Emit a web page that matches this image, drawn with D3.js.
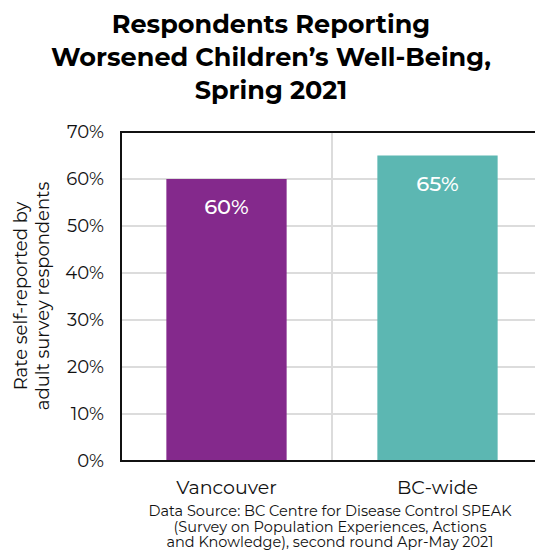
<!DOCTYPE html>
<html>
<head>
<meta charset="utf-8">
<script src="https://cdn.jsdelivr.net/npm/d3@7"></script>
<style>
  html, body { margin: 0; padding: 0; background: #fff; }
  svg { display: block; font-family: "Montserrat", "Open Sans", "Noto Sans", sans-serif; }
</style>
</head>
<body>
<svg id="chart" width="535" height="551"></svg>
<script>
// Survey results: share of respondents reporting worsened children's well-being
const categories = ["Vancouver", "BC-wide"];
const values = [60, 65];
const barColors = ["#84298c", "#5cb7b2"];
const yTicks = [0, 10, 20, 30, 40, 50, 60, 70];
const titleLines = ["Respondents Reporting", "Worsened Children\u2019s Well-Being,", "Spring 2021"];
const yTitleLines = ["Rate self-reported by", "adult survey respondents"];
const sourceLines = [
  "Data Source: BC Centre for Disease Control SPEAK",
  "(Survey on Population Experiences, Actions",
  "and Knowledge), second round Apr-May 2021"
];

const svg = d3.select("#chart");
const plot = { left: 121, right: 543, top: 132, bottom: 461 };

const x = d3.scaleBand().domain(categories).range([plot.left, plot.right]).paddingInner(0.43).paddingOuter(0.215);
const y = d3.scaleLinear().domain([0, 70]).range([plot.bottom, plot.top]);

// Title
svg.append("g").selectAll("text").data(titleLines).join("text")
  .attr("x", 271).attr("y", (d, i) => 33 + i * 33)
  .attr("text-anchor", "middle")
  .attr("font-size", 25.5).attr("font-weight", 700).attr("fill", "#000")
  .text(d => d);

// Horizontal gridlines
svg.append("g").selectAll("line").data(yTicks.filter(t => t > 0 && t < 70)).join("line")
  .attr("x1", plot.left).attr("x2", plot.right)
  .attr("y1", d => y(d)).attr("y2", d => y(d))
  .attr("stroke", "#dcdcdc").attr("stroke-width", 2);

// Vertical gridline between categories
const mid = (x(categories[0]) + x.bandwidth() + x(categories[1])) / 2;
svg.append("line")
  .attr("x1", mid).attr("x2", mid).attr("y1", plot.top).attr("y2", plot.bottom)
  .attr("stroke", "#dcdcdc").attr("stroke-width", 2);

// Bars
svg.append("g").selectAll("rect").data(values).join("rect")
  .attr("x", (d, i) => x(categories[i]))
  .attr("width", x.bandwidth())
  .attr("y", d => y(d))
  .attr("height", d => y(0) - y(d))
  .attr("fill", (d, i) => barColors[i]);

// Value labels inside bars
svg.append("g").selectAll("text").data(values).join("text")
  .attr("x", (d, i) => x(categories[i]) + x.bandwidth() / 2)
  .attr("y", d => y(d) + 35)
  .attr("text-anchor", "middle")
  .attr("font-size", 21).attr("font-weight", 500).attr("fill", "#fff")
  .text(d => d + "%");

// Frame: top, left, bottom
svg.append("path")
  .attr("d", `M${plot.right},${plot.top}H${plot.left}V${plot.bottom}H${plot.right}`)
  .attr("fill", "none").attr("stroke", "#111").attr("stroke-width", 2);

// Y axis
const yAxis = d3.axisLeft(y).tickValues(yTicks).tickFormat(d => d + "%").tickSize(0).tickPadding(17);
svg.append("g").attr("transform", `translate(${plot.left},0)`).call(yAxis)
  .call(g => g.select(".domain").remove())
  .call(g => g.selectAll("text").attr("font-size", 18).attr("fill", "#111")
    .attr("font-family", "Montserrat, 'Open Sans', sans-serif"));

// X axis labels
const xAxis = d3.axisBottom(x).tickSize(0).tickPadding(20);
svg.append("g").attr("transform", `translate(0,${plot.bottom})`).call(xAxis)
  .call(g => g.select(".domain").remove())
  .call(g => g.selectAll("text").attr("font-size", 19).attr("fill", "#111")
    .attr("font-family", "Montserrat, 'Open Sans', sans-serif"));

// Y axis title
svg.append("g").attr("transform", "translate(0,296) rotate(-90)")
  .selectAll("text").data(yTitleLines).join("text")
  .attr("x", 0).attr("y", (d, i) => 27 + i * 22)
  .attr("text-anchor", "middle")
  .attr("font-size", 18).attr("fill", "#111")
  .text(d => d);

// Source note
svg.append("g").selectAll("text").data(sourceLines).join("text")
  .attr("x", 330).attr("y", (d, i) => 516 + i * 15.5)
  .attr("text-anchor", "middle")
  .attr("font-size", 14.5).attr("fill", "#111")
  .text(d => d);
</script>
</body>
</html>
